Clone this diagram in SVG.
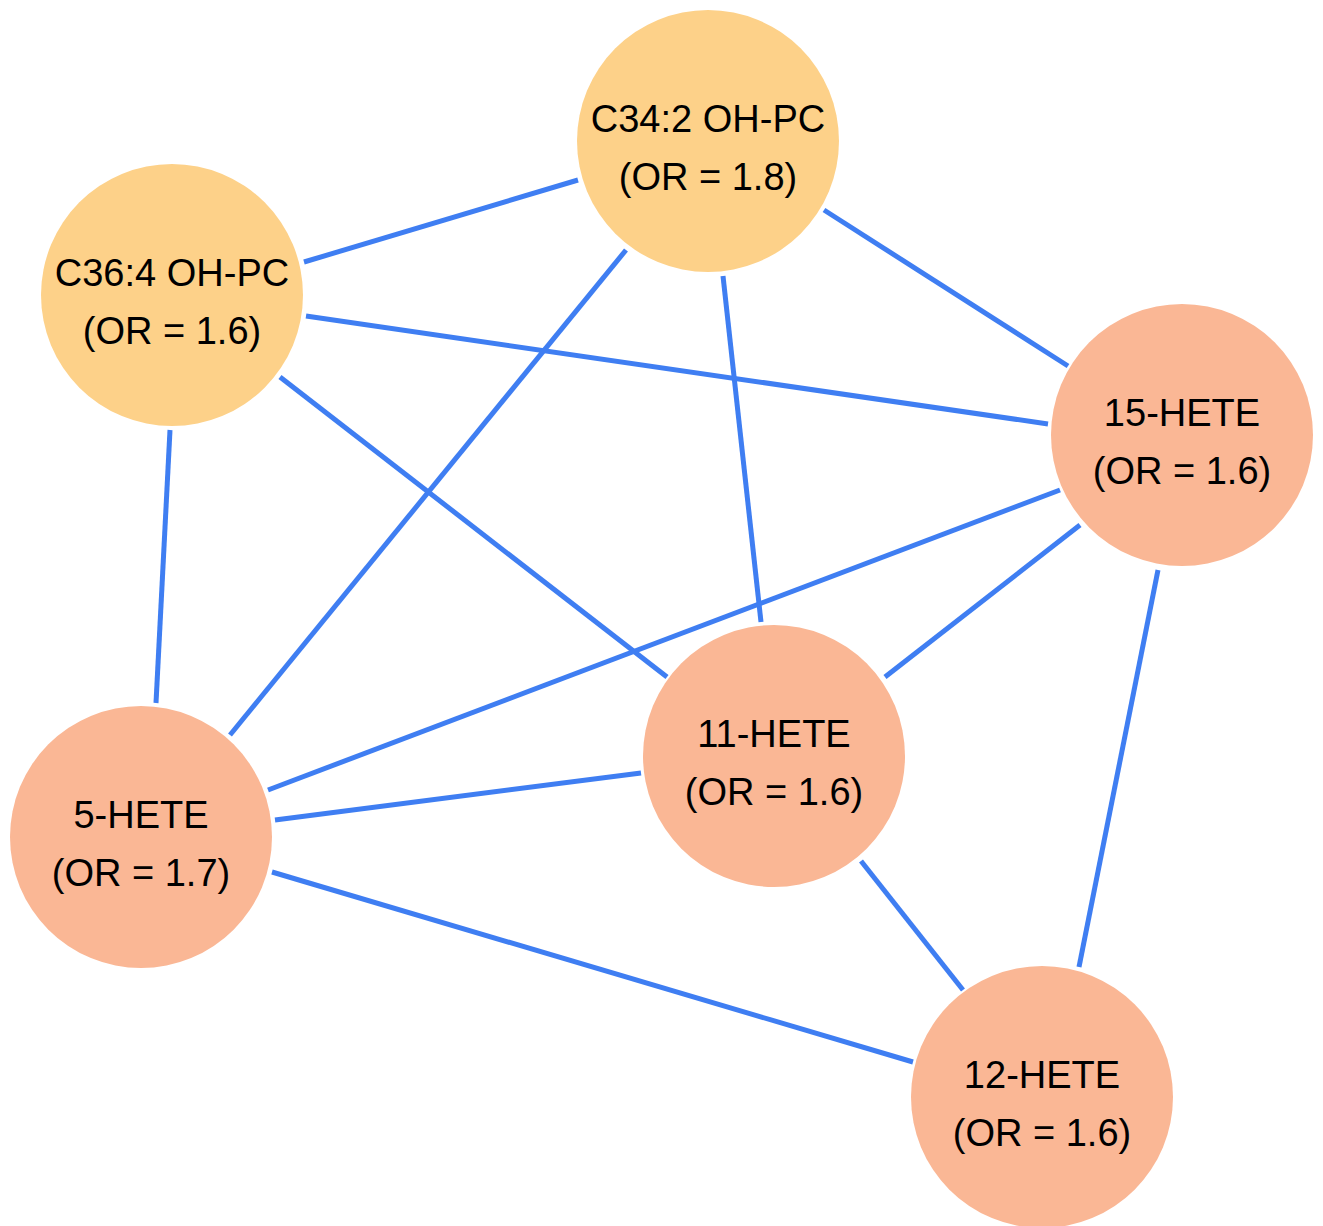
<svg xmlns="http://www.w3.org/2000/svg" width="1323" height="1226" viewBox="0 0 1323 1226">
<style>
.e{stroke:#3F7EF2;stroke-width:5;fill:none}
.lip{fill:#FDD189}
.hete{fill:#FAB795}
text{font-family:"Liberation Sans",Arial,sans-serif;font-size:38px;fill:#000;text-anchor:middle}
</style>
<rect width="1323" height="1226" fill="#fff"/>
<g id="edges">
<line class="e" x1="578" y1="180" x2="304" y2="262"/>
<line class="e" x1="824" y1="210" x2="1068" y2="366"/>
<line class="e" x1="626" y1="250" x2="230" y2="735"/>
<line class="e" x1="723" y1="276" x2="761" y2="622"/>
<line class="e" x1="306" y1="316" x2="1048" y2="424"/>
<line class="e" x1="280" y1="377" x2="667" y2="677"/>
<line class="e" x1="170" y1="430" x2="156" y2="703"/>
<line class="e" x1="1060" y1="490" x2="268" y2="790"/>
<line class="e" x1="1080" y1="525" x2="885" y2="677"/>
<line class="e" x1="1158" y1="570" x2="1079" y2="967"/>
<line class="e" x1="275" y1="820" x2="641" y2="773"/>
<line class="e" x1="272" y1="872" x2="913" y2="1062"/>
<line class="e" x1="861" y1="861" x2="963" y2="990"/>
</g>
<g id="n-c342">
<circle class="lip" cx="708" cy="141" r="131"/>
<text x="708" y="132">C34:2 OH-PC</text>
<text x="708" y="190">(OR = 1.8)</text>
</g>
<g id="n-c364">
<circle class="lip" cx="172" cy="295" r="131"/>
<text x="172" y="286">C36:4 OH-PC</text>
<text x="172" y="344">(OR = 1.6)</text>
</g>
<g id="n-15hete">
<circle class="hete" cx="1182" cy="435" r="131"/>
<text x="1182" y="426">15-HETE</text>
<text x="1182" y="484">(OR = 1.6)</text>
</g>
<g id="n-11hete">
<circle class="hete" cx="774" cy="756" r="131"/>
<text x="774" y="747">11-HETE</text>
<text x="774" y="805">(OR = 1.6)</text>
</g>
<g id="n-5hete">
<circle class="hete" cx="141" cy="837" r="131"/>
<text x="141" y="828">5-HETE</text>
<text x="141" y="886">(OR = 1.7)</text>
</g>
<g id="n-12hete">
<circle class="hete" cx="1042" cy="1097" r="131"/>
<text x="1042" y="1088">12-HETE</text>
<text x="1042" y="1146">(OR = 1.6)</text>
</g>
</svg>
